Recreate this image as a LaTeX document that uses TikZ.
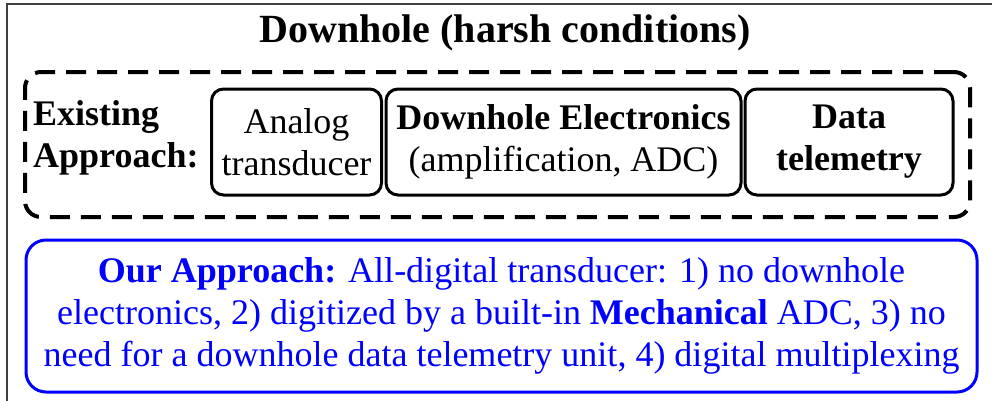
\documentclass[tikz,border=0pt]{standalone}
\usepackage{fontspec}
\setmainfont{Liberation Serif}
\definecolor{pureblue}{RGB}{0,0,255}
\begin{document}
\begin{tikzpicture}[x=1pt,y=-1pt,
  txt/.style={font=\fontsize{36}{42}\selectfont},
  boldtxt/.style={font=\fontsize{36}{42}\selectfont\bfseries},
  dashbox/.style={draw, line width=4pt, dash pattern=on 20pt off 11pt, rounded corners=16pt, inner sep=0pt},
  stepbox/.style={draw, line width=3pt, rounded corners=12pt, align=center, inner sep=0pt, minimum height=106pt, txt},
  bluebox/.style={draw=pureblue, text=pureblue, line width=3pt, rounded corners=20pt, align=center, inner sep=0pt, txt}]
\useasboundingbox (0,0) rectangle (992,400);
\draw[line width=2pt, black!75] (7,402) -- (7,4) -- (994,4);
\node[font=\fontsize{40}{44}\selectfont\bfseries] (title) at (505,33) {Downhole (harsh conditions)};
\node[dashbox, minimum width=945pt, minimum height=145pt] (existing) at (497.5,144.5) {};
\node[boldtxt, anchor=west, align=left, inner sep=0pt] (exlabel) at (33,138) {Existing\\Approach:};
\node[stepbox, minimum width=170pt] (analog) at (296.5,142) {Analog\\transducer};
\node[stepbox, minimum width=355pt] (elec) at (563.5,142) {\textbf{Downhole Electronics}\\(amplification, ADC)};
\node[stepbox, minimum width=208pt] (tele) at (849,142) {\textbf{Data}\\\textbf{telemetry}};
\node[bluebox, minimum width=951pt, minimum height=152pt] (our) at (501.5,316) {\textbf{Our Approach:} All-digital transducer: 1) no downhole\\electronics, 2) digitized by a built-in \textbf{Mechanical} ADC, 3) no\\need for a downhole data telemetry unit, 4) digital multiplexing};
\end{tikzpicture}
\end{document}
